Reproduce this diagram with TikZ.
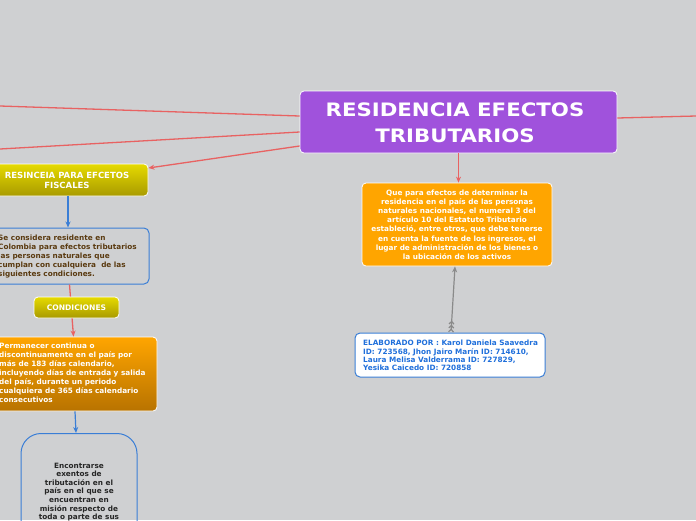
\documentclass[tikz,border=0pt]{standalone}
\usepackage{fontspec}
\setmainfont{DejaVu Sans}
\newfontfamily\titlefont[FakeStretch=1.15]{DejaVu Sans}
\usetikzlibrary{arrows.meta}
\definecolor{bg}{HTML}{CFD0D2}
\definecolor{purp}{HTML}{A052DC}
\definecolor{redl}{HTML}{E86262}
\definecolor{ytop}{HTML}{E6DA00}
\definecolor{ybot}{HTML}{A89A00}
\definecolor{otop}{HTML}{FFA500}
\definecolor{obot}{HTML}{B87300}
\definecolor{bluel}{HTML}{3A7ED6}
\definecolor{bluet}{HTML}{1F6FDB}
\definecolor{brownt}{HTML}{5A3A10}
\definecolor{grayl}{HTML}{8A8A8A}
\tikzset{
  redline/.style={draw=redl, line width=1.3pt},
  redarrow/.style={redline, -{Stealth[length=6pt,width=5pt]}},
  bluearrow/.style={draw=bluel, line width=1.2pt, -{Stealth[length=6pt,width=5pt]}},
  titlebox/.style={draw=white, line width=0.8pt, fill=purp, rounded corners=4pt},
  ybox/.style={draw=white, line width=0.8pt, top color=ytop, bottom color=ybot, rounded corners=4pt},
  obox/.style={draw=white, line width=0.8pt, top color=otop, bottom color=obot, rounded corners=4pt},
  oflat/.style={draw=white, line width=0.8pt, fill=otop, rounded corners=4pt},
  bbox/.style={draw=bluel, line width=1pt, rounded corners=5pt},
  txt/.style={inner sep=0pt, font=\bfseries\fontsize{7.3}{9}\selectfont},
}
\begin{document}
\begin{tikzpicture}[x=1pt,y=-1pt]
\fill[bg] (0,0) rectangle (696,520);
\useasboundingbox (0,0) rectangle (696,520);
\clip (0,0) rectangle (696,520);

% title
\node[titlebox, minimum width=317pt, minimum height=62pt] (title) at (458.5,122) {};
\node[text=white, inner sep=0pt, align=center, font=\titlefont\bfseries\fontsize{18.5}{26}\selectfont] (titletxt) at (455,123) {RESIDENCIA EFECTOS\\TRIBUTARIOS};

% free ends
\coordinate (l1) at (0,106);
\coordinate (l2) at (0,149);
\coordinate (r1) at (696,116);
\draw[redline] ([yshift=6pt]title.west) -- (l1);
\draw[redline] ([yshift=-10pt]title.west) -- (l2);
\draw[redline] ([yshift=4pt]title.east) -- (r1);

% residencia fiscal box
\node[ybox, minimum width=160pt, minimum height=32pt] (res) at (68,180) {};
\node[text=white, inner sep=0pt, align=center, font=\bfseries\fontsize{8.5}{10}\selectfont] (restxt) at (67,180.5) {RESINCEIA PARA EFCETOS\\FISCALES};
\draw[redarrow] ([yshift=-24pt]title.west) -- ([yshift=12pt]res.east);

% considera box
\node[bbox, minimum width=159pt, minimum height=56pt] (cons) at (69.5,256) {};
\node[txt, text=brownt, align=left, anchor=north west] (constxt) at (-2,234.5) {Se considera residente en\\Colombia para efectos tributarios\\las personas naturales que\\cumplan con cualquiera \ de las\\siguientes condiciones.};
\draw[bluearrow] (res.south) -- (res.south |- cons.north);

% permanecer box
\node[obox, minimum width=167pt, minimum height=74pt] (perm) at (73.5,374) {};
\node[txt, text=white, align=left, anchor=north west] (permtxt) at (-1,342.5) {Permanecer continua o\\discontinuamente en el país por\\más de 183 días calendario,\\incluyendo días de entrada y salida\\del país, durante un periodo\\cualquiera de 365 días calendario\\consecutivos};
\draw[redarrow] (cons.south) -- (perm.north);

% condiciones
\node[ybox, minimum width=85pt, minimum height=21pt, font=\bfseries\fontsize{7.6}{9}\selectfont, text=white] (cond) at (76.5,307.5) {CONDICIONES};

% exentos box
\node[draw=bluel, line width=1pt, rounded corners=20pt, minimum width=116pt, minimum height=200pt, anchor=north] (exent) at (79,433) {};
\node[txt, text=black!85, align=center, anchor=north, font=\bfseries\fontsize{7.3}{8.6}\selectfont] (exenttxt) at (79,462.5) {Encontrarse\\exentos de\\tributación en el\\país en el que se\\encuentran en\\misión respecto de\\toda o parte de sus};
\draw[bluearrow] ([xshift=1.5pt]perm.south) -- ([xshift=-3pt]exent.north);

% info box right
\node[oflat, minimum width=190pt, minimum height=83pt] (info) at (457,224.5) {};
\node[txt, text=white, align=center, font=\bfseries\fontsize{7.3}{9.2}\selectfont] (infotxt) at (457,224.5) {Que para efectos de determinar la\\residencia en el país de las personas\\naturales nacionales, el numeral 3 del\\artículo 10 del Estatuto Tributario\\estableció, entre otros, que debe tenerse\\en cuenta la fuente de los ingresos, el\\lugar de administración de los bienes o\\la ubicación de los activos};
\draw[redarrow] (title.south) -- (title.south |- info.north);

% elaborado
\node[bbox, fill=white, minimum width=190pt, minimum height=44pt] (elab) at (450,355) {};
\node[txt, text=bluet, align=left, anchor=west, font=\bfseries\fontsize{7.3}{8.4}\selectfont] (elabtxt) at (363,355.5) {ELABORADO POR : Karol Daniela Saavedra\\ID: 723568, Jhon Jairo Marín ID: 714610,\\Laura Melisa Valderrama ID: 727829,\\Yesika Caicedo ID: 720858};
\draw[draw=grayl, line width=1.2pt, {Straight Barb[reversed,length=2.5pt,width=5pt]Straight Barb[reversed,length=2.5pt,width=5pt]Straight Barb[reversed,length=2.5pt,width=5pt]}-{Stealth[length=6pt,width=5pt]}] ([xshift=1pt]elab.north) -- ([xshift=-2pt]info.south);
\end{tikzpicture}
\end{document}
